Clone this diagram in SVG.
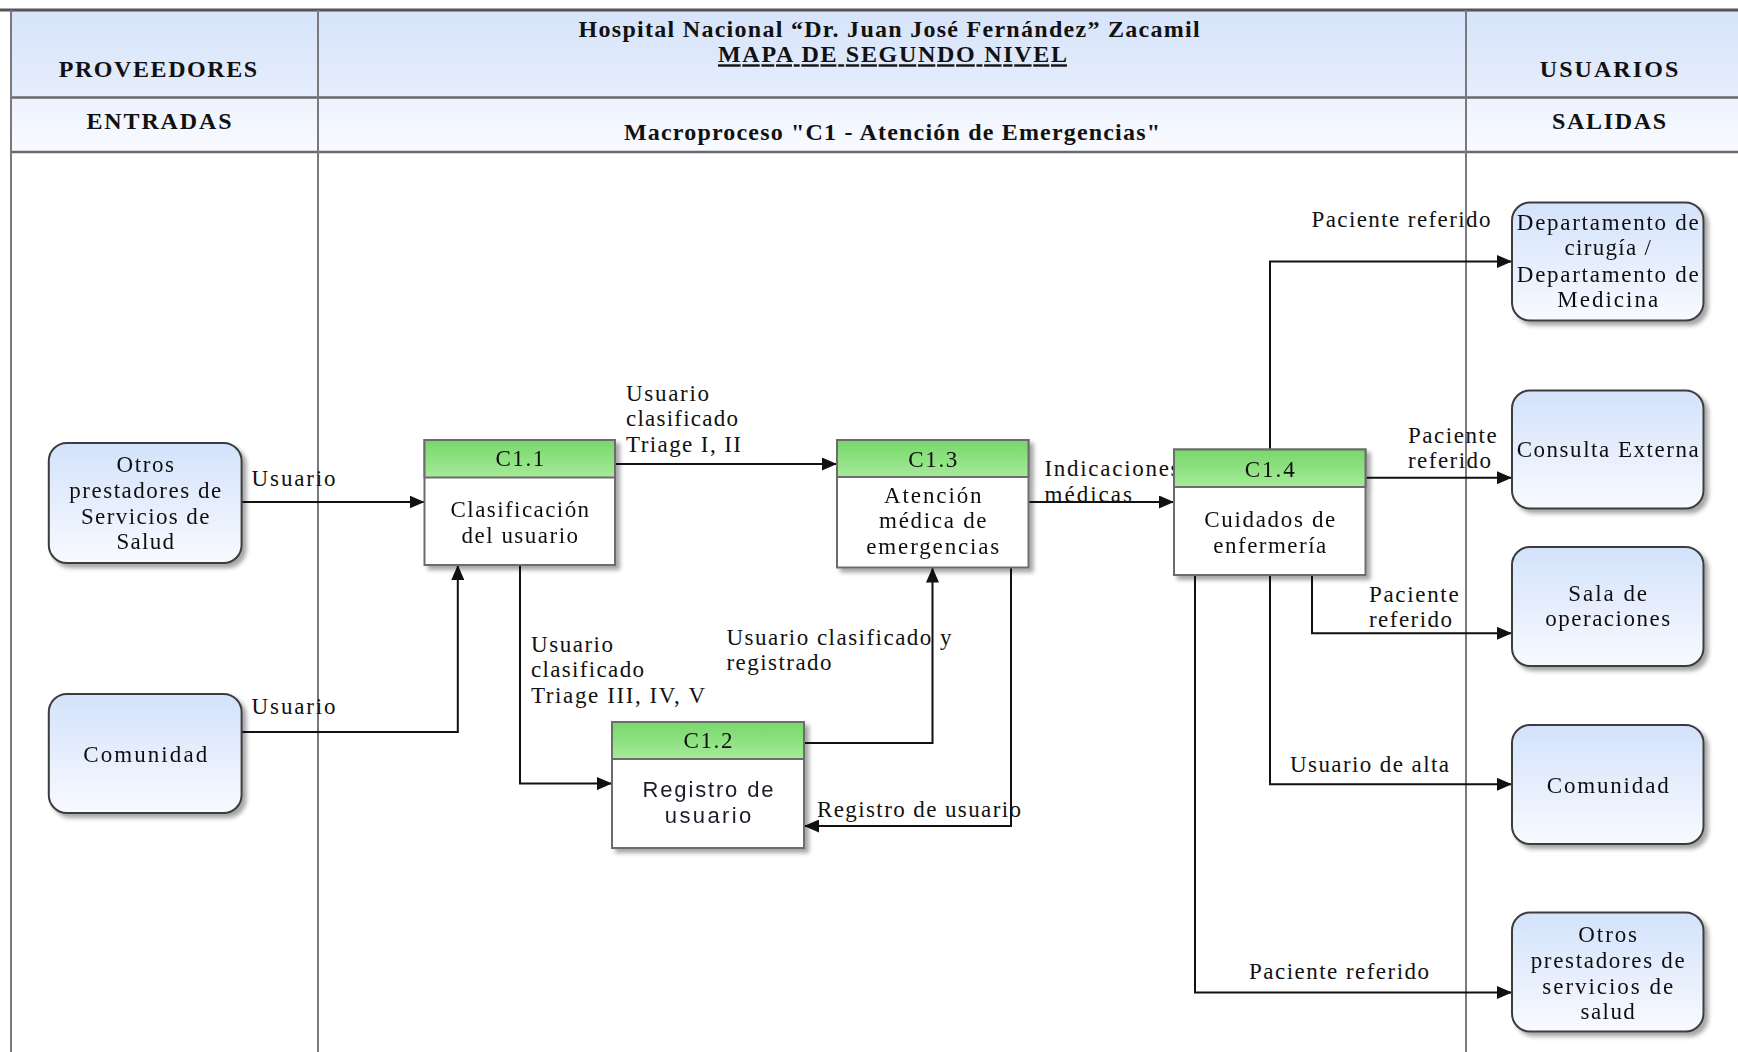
<svg xmlns="http://www.w3.org/2000/svg" width="1738" height="1052" viewBox="0 0 1738 1052">
  <defs>
    <linearGradient id="hdr1" x1="0" y1="0" x2="0" y2="1">
      <stop offset="0" stop-color="#d6e3fa"/>
      <stop offset="1" stop-color="#e6eefc"/>
    </linearGradient>
    <linearGradient id="hdr2" x1="0" y1="0" x2="0" y2="1">
      <stop offset="0" stop-color="#edf2fd"/>
      <stop offset="1" stop-color="#f9fbff"/>
    </linearGradient>
    <linearGradient id="blue" x1="0" y1="0" x2="0" y2="1">
      <stop offset="0" stop-color="#d3e2fb"/>
      <stop offset="1" stop-color="#f8faff"/>
    </linearGradient>
    <linearGradient id="green" x1="0" y1="0" x2="0" y2="1">
      <stop offset="0" stop-color="#76d869"/>
      <stop offset="1" stop-color="#a6ea99"/>
    </linearGradient>
    <filter id="shadow" x="-10%" y="-10%" width="130%" height="130%">
      <feDropShadow dx="4" dy="4" stdDeviation="2" flood-color="#000" flood-opacity="0.35"/>
    </filter>
    <marker id="arrow" markerUnits="userSpaceOnUse" markerWidth="15" markerHeight="13" refX="15" refY="6.5" orient="auto">
      <path d="M0,0 L15,6.5 L0,13 z" fill="#111"/>
    </marker>
  </defs>
  <style>
    .frame { stroke: #6a6a6a; stroke-width: 2.5; fill: none; }
    .lane { stroke: #7a7a7a; stroke-width: 2; }
    .hd { font-family: "Liberation Serif", "Times New Roman", serif; font-weight: bold; font-size: 24px; fill: #111; }
    .lbl { font-family: "Liberation Serif", "Times New Roman", serif; font-size: 23px; fill: #111; }
    .box { font-family: "Liberation Serif", "Times New Roman", serif; font-size: 23px; fill: #111; text-anchor: middle; }
    .sans { font-family: "Liberation Sans", Arial, sans-serif; font-size: 22px; fill: #1c1c2c; text-anchor: middle; }
    .proc { fill: #ffffff; stroke: #6c6c6c; stroke-width: 2; }
    .phead { fill: url(#green); stroke: #6c6c6c; stroke-width: 2; }
    .ext { fill: url(#blue); stroke: #3c3c3c; stroke-width: 2; }
    .conn { fill: none; stroke: #111; stroke-width: 2; }
  </style>

  <!-- page background -->
  <rect x="0" y="0" width="1738" height="1052" fill="#ffffff"/>

  <!-- header band and swimlane grid -->
  <g id="header">
    <rect x="11" y="10" width="1730" height="87.5" fill="url(#hdr1)"/>
    <rect x="11" y="97.5" width="1730" height="54.5" fill="url(#hdr2)"/>
    <line x1="0" y1="10" x2="1738" y2="10" stroke="#555" stroke-width="3"/>
    <line x1="11" y1="97.5" x2="1738" y2="97.5" class="frame"/>
    <line x1="11" y1="152" x2="1738" y2="152" class="frame"/>
    <line x1="11" y1="10" x2="11" y2="1052" class="lane"/>
    <line x1="318" y1="10" x2="318" y2="1052" class="lane"/>
    <line x1="1466" y1="10" x2="1466" y2="1052" class="lane"/>

    <text class="hd" x="578.6" y="36.7" textLength="621" lengthAdjust="spacing">Hospital Nacional “Dr. Juan José Fernández” Zacamil</text>
    <text class="hd" x="718" y="62.3" textLength="349" lengthAdjust="spacing" text-decoration="underline">MAPA DE SEGUNDO NIVEL</text>
    <text class="hd" x="58.7" y="77.3" textLength="198.5" lengthAdjust="spacing">PROVEEDORES</text>
    <text class="hd" x="1609" y="77.3" text-anchor="middle" textLength="138.5" lengthAdjust="spacing">USUARIOS</text>
    <text class="hd" x="159" y="129.3" text-anchor="middle" textLength="145" lengthAdjust="spacing">ENTRADAS</text>
    <text class="hd" x="1609" y="129.3" text-anchor="middle" textLength="114" lengthAdjust="spacing">SALIDAS</text>
    <text class="hd" x="624" y="139.5" textLength="536" lengthAdjust="spacing">Macroproceso "C1 - Atención de Emergencias"</text>
  </g>

  <!-- connectors -->
  <g id="connectors">
    <path class="conn" d="M241.6,502 H424.5" marker-end="url(#arrow)"/>
    <path class="conn" d="M241.6,732 H457.8 V565" marker-end="url(#arrow)"/>
    <path class="conn" d="M615,464 H837" marker-end="url(#arrow)"/>
    <path class="conn" d="M520,565 V783.6 H612" marker-end="url(#arrow)"/>
    <path class="conn" d="M804,743 H932.5 V567.5" marker-end="url(#arrow)"/>
    <path class="conn" d="M1011,567.5 V826 H804" marker-end="url(#arrow)"/>
    <path class="conn" d="M1028.5,502 H1174" marker-end="url(#arrow)"/>
    <path class="conn" d="M1270,449.5 V261.5 H1512" marker-end="url(#arrow)"/>
    <path class="conn" d="M1365.5,477.7 H1512" marker-end="url(#arrow)"/>
    <path class="conn" d="M1312,575 V633.3 H1512" marker-end="url(#arrow)"/>
    <path class="conn" d="M1270,575 V784.3 H1512" marker-end="url(#arrow)"/>
    <path class="conn" d="M1195,575 V992.5 H1512" marker-end="url(#arrow)"/>

    <text class="lbl" x="251.6" y="485.5" textLength="84" lengthAdjust="spacing">Usuario</text>
    <text class="lbl" x="251.6" y="713.5" textLength="84" lengthAdjust="spacing">Usuario</text>
    <text class="lbl" x="626" y="400.7" textLength="83" lengthAdjust="spacing">Usuario</text>
    <text class="lbl" x="626" y="425.7" textLength="112" lengthAdjust="spacing">clasificado</text>
    <text class="lbl" x="626" y="451.7" textLength="115" lengthAdjust="spacing">Triage I, II</text>
    <text class="lbl" x="531" y="651.5" textLength="82" lengthAdjust="spacing">Usuario</text>
    <text class="lbl" x="531" y="677.3" textLength="113" lengthAdjust="spacing">clasificado</text>
    <text class="lbl" x="531" y="703.3" textLength="174" lengthAdjust="spacing">Triage III, IV, V</text>
    <text class="lbl" x="726.5" y="644.5" textLength="225" lengthAdjust="spacing">Usuario clasificado y</text>
    <text class="lbl" x="726.5" y="670" textLength="105" lengthAdjust="spacing">registrado</text>
    <text class="lbl" x="817" y="816.5" textLength="204" lengthAdjust="spacing">Registro de usuario</text>
    <text class="lbl" x="1044.5" y="476" textLength="135" lengthAdjust="spacing">Indicaciones</text>
    <text class="lbl" x="1044.5" y="501.5" textLength="87.5" lengthAdjust="spacing">médicas</text>
    <text class="lbl" x="1311.5" y="226.7" textLength="179" lengthAdjust="spacing">Paciente referido</text>
    <text class="lbl" x="1408" y="443.3" textLength="88.7" lengthAdjust="spacing">Paciente</text>
    <text class="lbl" x="1408" y="468.3" textLength="83" lengthAdjust="spacing">referido</text>
    <text class="lbl" x="1369" y="601.5" textLength="89.6" lengthAdjust="spacing">Paciente</text>
    <text class="lbl" x="1369" y="626.5" textLength="83" lengthAdjust="spacing">referido</text>
    <text class="lbl" x="1290" y="771.7" textLength="159" lengthAdjust="spacing">Usuario de alta</text>
    <text class="lbl" x="1249" y="979" textLength="180" lengthAdjust="spacing">Paciente referido</text>
  </g>

  <!-- suppliers -->
  <g id="prov-otros" filter="url(#shadow)">
    <rect class="ext" x="48.8" y="443" width="192.8" height="120" rx="18" ry="18"/>
    <text class="box" x="145.2" y="471.7" textLength="57.6" lengthAdjust="spacing">Otros</text>
    <text class="box" x="145.2" y="498.3" textLength="151.8" lengthAdjust="spacing">prestadores de</text>
    <text class="box" x="145.2" y="524" textLength="128.6" lengthAdjust="spacing">Servicios de</text>
    <text class="box" x="145.2" y="549.3" textLength="57.6" lengthAdjust="spacing">Salud</text>
  </g>
  <g id="prov-comunidad" filter="url(#shadow)">
    <rect class="ext" x="48.8" y="694" width="192.8" height="119" rx="18" ry="18"/>
    <text class="box" x="145.2" y="761.7" textLength="124" lengthAdjust="spacing">Comunidad</text>
  </g>

  <!-- processes -->
  <g id="c1-1" filter="url(#shadow)">
    <rect class="proc" x="424.5" y="440" width="190.5" height="125"/>
    <rect class="phead" x="424.5" y="440" width="190.5" height="37.5"/>
    <text class="box" x="519.8" y="466" textLength="48.8" lengthAdjust="spacing">C1.1</text>
    <text class="box" x="519.8" y="516.7" textLength="138.5" lengthAdjust="spacing">Clasificación</text>
    <text class="box" x="519.8" y="542.7" textLength="116.4" lengthAdjust="spacing">del usuario</text>
  </g>
  <g id="c1-2" filter="url(#shadow)">
    <rect class="proc" x="612" y="722" width="192" height="126"/>
    <rect class="phead" x="612" y="722" width="192" height="37"/>
    <text class="box" x="708" y="748" textLength="49" lengthAdjust="spacing">C1.2</text>
    <text class="sans" x="708" y="797.3" textLength="131" lengthAdjust="spacing">Registro de</text>
    <text class="sans" x="708" y="822.7" textLength="86.5" lengthAdjust="spacing">usuario</text>
  </g>
  <g id="c1-3" filter="url(#shadow)">
    <rect class="proc" x="837" y="440" width="191.5" height="127.5"/>
    <rect class="phead" x="837" y="440" width="191.5" height="37"/>
    <text class="box" x="932.8" y="466.7" textLength="49" lengthAdjust="spacing">C1.3</text>
    <text class="box" x="932.8" y="502.7" textLength="97.5" lengthAdjust="spacing">Atención</text>
    <text class="box" x="932.8" y="528.3" textLength="107.5" lengthAdjust="spacing">médica de</text>
    <text class="box" x="932.8" y="554.3" textLength="133" lengthAdjust="spacing">emergencias</text>
  </g>
  <g id="c1-4" filter="url(#shadow)">
    <rect class="proc" x="1174" y="449.5" width="191.5" height="125.5"/>
    <rect class="phead" x="1174" y="449.5" width="191.5" height="37.5"/>
    <text class="box" x="1269.8" y="476.7" textLength="50" lengthAdjust="spacing">C1.4</text>
    <text class="box" x="1269.8" y="526.7" textLength="131" lengthAdjust="spacing">Cuidados de</text>
    <text class="box" x="1269.8" y="552.7" textLength="113" lengthAdjust="spacing">enfermería</text>
  </g>

  <!-- users -->
  <g id="usr-departamentos" filter="url(#shadow)">
    <rect class="ext" x="1512" y="202.5" width="191.5" height="118" rx="18" ry="18"/>
    <text class="box" x="1607.7" y="230" textLength="181.8" lengthAdjust="spacing">Departamento de</text>
    <text class="box" x="1607.7" y="255" textLength="86.5" lengthAdjust="spacing">cirugía /</text>
    <text class="box" x="1607.7" y="281.7" textLength="181.8" lengthAdjust="spacing">Departamento de</text>
    <text class="box" x="1607.7" y="306.7" textLength="101" lengthAdjust="spacing">Medicina</text>
  </g>
  <g id="usr-consulta" filter="url(#shadow)">
    <rect class="ext" x="1512" y="390.5" width="191.5" height="118" rx="18" ry="18"/>
    <text class="box" x="1607.7" y="457.3" textLength="182" lengthAdjust="spacing">Consulta Externa</text>
  </g>
  <g id="usr-sala" filter="url(#shadow)">
    <rect class="ext" x="1512" y="547" width="191.5" height="119" rx="18" ry="18"/>
    <text class="box" x="1607.7" y="600.5" textLength="78.7" lengthAdjust="spacing">Sala de</text>
    <text class="box" x="1607.7" y="626" textLength="125" lengthAdjust="spacing">operaciones</text>
  </g>
  <g id="usr-comunidad" filter="url(#shadow)">
    <rect class="ext" x="1512" y="725" width="191.5" height="119" rx="18" ry="18"/>
    <text class="box" x="1607.7" y="793.3" textLength="122" lengthAdjust="spacing">Comunidad</text>
  </g>
  <g id="usr-otros" filter="url(#shadow)">
    <rect class="ext" x="1512" y="912.5" width="191.5" height="119" rx="18" ry="18"/>
    <text class="box" x="1607.7" y="941.7" textLength="58.7" lengthAdjust="spacing">Otros</text>
    <text class="box" x="1607.7" y="968.3" textLength="154" lengthAdjust="spacing">prestadores de</text>
    <text class="box" x="1607.7" y="994" textLength="130.8" lengthAdjust="spacing">servicios de</text>
    <text class="box" x="1607.7" y="1019.3" textLength="54.3" lengthAdjust="spacing">salud</text>
  </g>
</svg>
